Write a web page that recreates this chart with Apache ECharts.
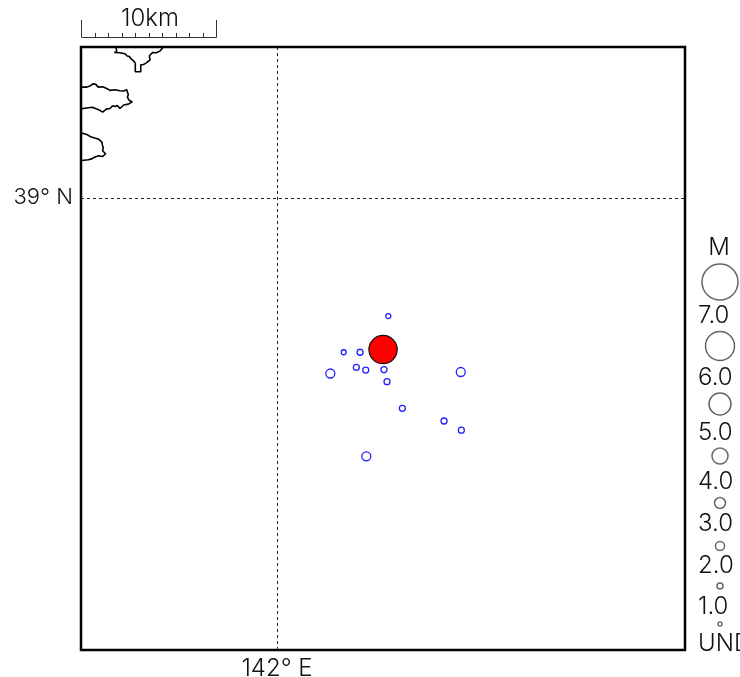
<!DOCTYPE html>
<html><head><meta charset="utf-8">
<style>html,body{margin:0;padding:0;background:#fff}#c{width:740px;height:677px}</style>
<script src="https://cdn.jsdelivr.net/npm/echarts@6/dist/echarts.min.js"></script>
</head><body><div id="c"></div>
<script>
const lonRange = [141.83125, 142.35125];
const latRange = [38.7, 39.1];
const lonTicks = [142];
const latTicks = [39];
const eventLon = [142.0958,142.0574,142.0715,142.0683,142.0764,142.0921,142.0459,142.0947,142.1582,142.1079,142.1438,142.1587,142.0769];
const eventLat = [38.9215,38.8975,38.8975,38.8875,38.8857,38.8860,38.8834,38.8780,38.8844,38.8603,38.8519,38.8458,38.8285];
const eventMag = [0.5,0.5,1,1,1,1,2,1,2,1,1,1,2];
const mainLon = [142.0913];
const mainLat = [38.8993];
const mainMag = [5.9];
const coastA = [[141.8614,39.1],[141.8620,39.0970],[141.8599,39.0964],[141.8645,39.0962],[141.8691,39.0955],[141.8710,39.0940],[141.8728,39.0937],[141.8745,39.0920],[141.8763,39.0910],[141.8770,39.0897],[141.8780,39.0893],[141.8780,39.0836],[141.8827,39.0836],[141.8827,39.0882],[141.8850,39.0884],[141.8872,39.0893],[141.8885,39.0906],[141.8907,39.0915],[141.8901,39.0942],[141.8930,39.0964],[141.8960,39.0962],[141.8993,39.0973],[141.9021,39.1]];
const coastB = [[141.8319,39.0734],[141.8362,39.0734],[141.8390,39.0742],[141.8418,39.0756],[141.8440,39.0752],[141.8461,39.0734],[141.8500,39.0736],[141.8534,39.0725],[141.8562,39.0712],[141.8605,39.0716],[141.8648,39.0710],[141.8680,39.0708],[141.8706,39.0716],[141.8720,39.0683],[141.8712,39.0668],[141.8728,39.0645],[141.8754,39.0637],[141.8720,39.0621],[141.8680,39.0615],[141.8648,39.0592],[141.8625,39.0612],[141.8605,39.0605],[141.8585,39.0610],[141.8562,39.0592],[141.8530,39.0588],[141.8499,39.0568],[141.8475,39.0580],[141.8448,39.0588],[141.8410,39.0600],[141.8375,39.0597],[141.8319,39.0590]];
const coastC = [[141.8319,39.0429],[141.8362,39.0420],[141.8395,39.0405],[141.8424,39.0398],[141.8460,39.0390],[141.8491,39.0371],[141.8497,39.0350],[141.8504,39.0330],[141.8498,39.0312],[141.8525,39.0292],[141.8499,39.0274],[141.8465,39.0278],[141.8433,39.0270],[141.8405,39.0258],[141.8375,39.0252],[141.8319,39.0247]];
const legendLabels = ['7.0','6.0','5.0','4.0','3.0','2.0','1.0','UND'];
const legendMags = [7,6,5,4,3,2,1,0];
const scaleTitle = 'M';
const scaleBarLabel = '10km';

// symbol diameter for a magnitude, as the legend draws it
const sizeSteps = [4,6,9,11,16,22,29,36];
function sizeOf(m){
  const i = Math.min(Math.floor(m), 6), f = m - i;
  return sizeSteps[i] + (sizeSteps[i+1]-sizeSteps[i])*f;
}
const FONT = 'Inter';
const WEIGHT = 300;
const FS = 24;
const fontStr = WEIGHT+' '+FS+'px '+FONT;
const TXT = '#111';
const legendCircleY = [282,346,404,456,503,546,586,624];
const legendLabelY = [316,378,433,482,524,566,607,644];
const graphic = [];
legendMags.forEach((m,i)=>{
  graphic.push({type:'circle',shape:{cx:720,cy:legendCircleY[i],r:sizeOf(m)/2},
    style:{fill:'#fff',stroke:'#666',lineWidth:1.5}});
  graphic.push({type:'text',x:698,y:legendLabelY[i],
    style:{text:legendLabels[i],font:fontStr,fill:TXT,textAlign:'left',textVerticalAlign:'middle'}});
});
graphic.push({type:'text',x:719,y:248,style:{text:scaleTitle,font:fontStr,fill:TXT,textAlign:'center',textVerticalAlign:'middle'}});
// scale bar
const barStyle = {stroke:'#333',lineWidth:1,fill:'none'};
graphic.push({type:'line',shape:{x1:81.5,y1:37.5,x2:216.5,y2:37.5},style:barStyle});
for(let i=0;i<=10;i++){
  const x = Math.round(81+13.5*i)+0.5;
  graphic.push({type:'line',shape:{x1:x,y1:37.5,x2:x,y2:(i%10===0)?20:33},style:barStyle});
}
graphic.push({type:'text',x:150,y:19,style:{text:scaleBarLabel,font:fontStr,fill:TXT,textAlign:'center',textVerticalAlign:'middle'}});

const coastSeries = [coastA,coastB,coastC].map(d=>({
  type:'line',data:d,showSymbol:false,symbol:'none',silent:true,clip:true,
  lineStyle:{color:'#000',width:1.6},z:3,animation:false
}));
const zip = (a,b,c)=>a.map((v,i)=>[v,b[i],c[i]]);
const chart = echarts.init(document.getElementById('c'),null,{renderer:'canvas'});
const gridLine = {show:true,lineStyle:{color:'#222',type:[3,3],width:1}};
chart.setOption({
  animation:false,
  backgroundColor:'#fff',
  grid:{left:81,top:47,width:604,height:603,show:true,borderColor:'#000',borderWidth:2.5,backgroundColor:'#fff',outerBoundsMode:'none'},
  xAxis:{type:'value',min:lonRange[0],max:lonRange[1],
    axisLine:{show:false},
    axisTick:{show:false,customValues:lonTicks},
    axisLabel:{customValues:lonTicks,formatter:v=>Math.round(v)+'° E',margin:7,fontFamily:FONT,fontWeight:WEIGHT,fontSize:FS,color:TXT},
    splitLine:gridLine},
  yAxis:{type:'value',min:latRange[0],max:latRange[1],
    axisLine:{show:false},
    axisTick:{show:false,customValues:latTicks},
    axisLabel:{customValues:latTicks,formatter:v=>Math.round(v)+'° N',margin:8,padding:[4,0,0,0],fontFamily:FONT,fontWeight:WEIGHT,fontSize:22,color:TXT},
    splitLine:gridLine},
  series:[
    ...coastSeries,
    {type:'scatter',data:zip(eventLon,eventLat,eventMag),symbolSize:d=>sizeOf(d[2]),
     itemStyle:{color:'#fff',borderColor:'#22f',borderWidth:1.3,opacity:1},z:4},
    {type:'scatter',data:zip(mainLon,mainLat,mainMag),symbolSize:d=>sizeOf(d[2]),
     itemStyle:{color:'#f00',borderColor:'#111',borderWidth:1.2,opacity:1},z:5}
  ],
  graphic:{elements:graphic}
});
</script></body></html>
